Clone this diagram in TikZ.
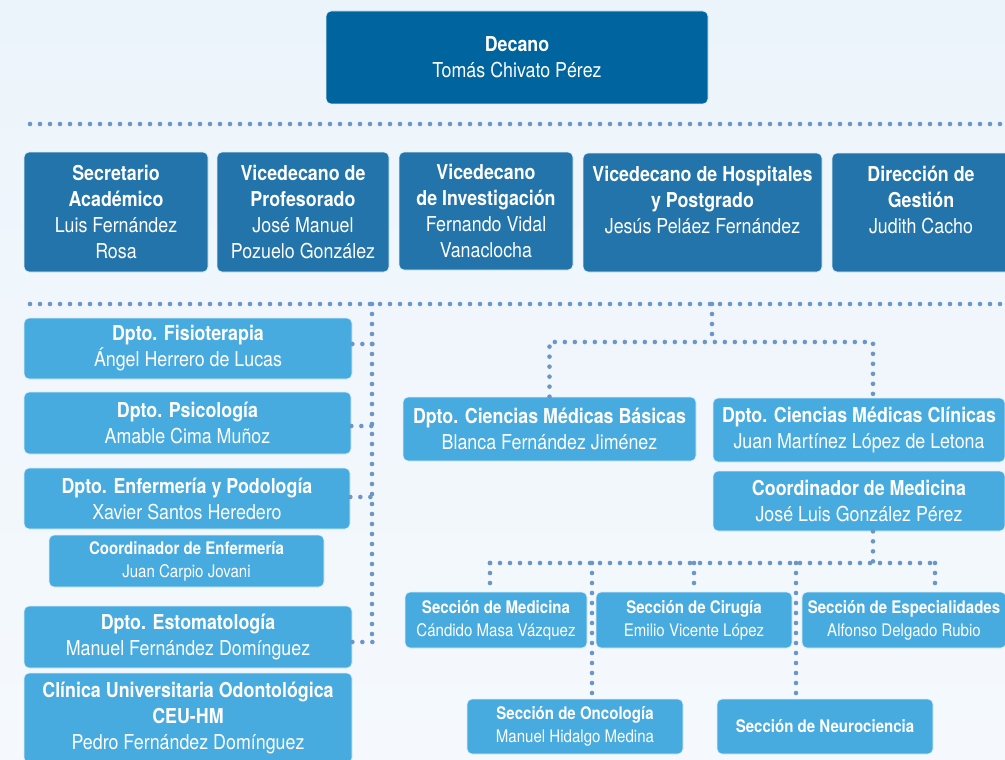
\documentclass[tikz,border=0pt]{standalone}
\usepackage{fontspec}
\setmainfont{TeX Gyre Heros}[FakeStretch=0.87]
\definecolor{decblue}{RGB}{0,100,159}
\definecolor{midblue}{RGB}{34,116,170}
\definecolor{lightblue}{RGB}{72,171,224}
\definecolor{dotblue}{RGB}{106,150,200}
\definecolor{boxedge}{RGB}{222,238,250}
\definecolor{bgtop}{RGB}{236,244,251}
\definecolor{bgbot}{RGB}{245,249,253}
\tikzset{
  box/.style={rectangle, rounded corners=5pt, draw=boxedge, line width=0.7pt,
    text=white, align=center, inner sep=0pt, font=\fontsize{20.5}{26}\selectfont},
  dbox/.style={box, fill=decblue},
  mbox/.style={box, fill=midblue},
  lbox/.style={box, fill=lightblue},
  sbox/.style={lbox, font=\fontsize{17.3}{23}\selectfont},
  dots/.style={draw=dotblue, line width=4.6pt, line cap=round, dash pattern=on 0pt off 10pt},
}
\begin{document}
\begin{tikzpicture}[x=1pt,y=-1pt]
\useasboundingbox (0,0) rectangle (1005,760);
\clip (0,0) rectangle (1005,760);
\fill[top color=bgtop, bottom color=bgbot] (0,0) rectangle (1005,760);

% separators
\coordinate (sa1) at (30,124);
\coordinate (sa2) at (1010,124);
\coordinate (sb1) at (30,304);
\coordinate (sb2) at (1010,304);
\draw[dots] (sa1) -- (sa2);
\draw[dots] (sb1) -- (sb2);

% top
\node[dbox, minimum width=382pt, minimum height=93pt] (dec) at (517,57.5)
  {\textbf{Decano}\\Tomás Chivato Pérez};

% second row
\node[mbox, minimum width=184pt, minimum height=120pt] (sec) at (116,212)
  {\textbf{Secretario}\\\textbf{Académico}\\Luis Fernández\\Rosa};
\node[mbox, minimum width=172pt, minimum height=120pt] (prof) at (303,212)
  {\textbf{Vicedecano de}\\\textbf{Profesorado}\\José Manuel\\Pozuelo González};
\node[mbox, minimum width=174pt, minimum height=118pt] (inv) at (486,211)
  {\textbf{Vicedecano}\\\textbf{de Investigación}\\Fernando Vidal\\Vanaclocha};
\node[mbox, minimum width=239pt, minimum height=119pt] (hosp) at (702.5,212.5)
  {\textbf{Vicedecano de Hospitales}\\\textbf{y Postgrado}\\Jesús Peláez Fernández\\\mbox{}};
\node[mbox, minimum width=178pt, minimum height=119pt] (dir) at (921,212.5)
  {\textbf{Dirección de}\\\textbf{Gestión}\\Judith Cacho\\\mbox{}};

% left column
\node[lbox, minimum width=328pt, minimum height=61pt] (fisio) at (188,348.5)
  {\textbf{Dpto. Fisioterapia}\\Ángel Herrero de Lucas};
\node[lbox, minimum width=327pt, minimum height=62pt] (psi) at (187.5,423)
  {\textbf{Dpto. Psicología}\\Amable Cima Muñoz};
\node[lbox, minimum width=326pt, minimum height=61pt] (enf) at (187,498.5)
  {\textbf{Dpto. Enfermería y Podología}\\Xavier Santos Heredero};
\node[sbox, minimum width=275pt, minimum height=52pt] (coenf) at (186.5,561)
  {\textbf{Coordinador de Enfermería}\\Juan Carpio Jovani};
\node[lbox, minimum width=328pt, minimum height=62pt] (esto) at (188,637)
  {\textbf{Dpto. Estomatología}\\Manuel Fernández Domínguez};
\node[lbox, minimum width=328pt, minimum height=90pt] (clinica) at (188,718)
  {\textbf{Clínica Universitaria Odontológica}\\\textbf{CEU-HM}\\Pedro Fernández Domínguez};

% left connectors
\coordinate (vl1) at (372,304);
\coordinate (vl2) at (372,642);
\draw[dots] (vl1) -- (vl2);
\draw[dots] ([yshift=4.5pt]fisio.east) -- ++(20,0);
\draw[dots] ([yshift=-3pt]psi.east) -- ++(21,0);
\draw[dots] ([yshift=1.5pt]enf.east) -- ++(22,0);
\draw[dots] ([yshift=-5pt]esto.east) -- ++(20,0);

% right departments
\node[lbox, minimum width=293pt, minimum height=64pt] (bas) at (549.5,429)
  {\textbf{Dpto. Ciencias Médicas Básicas}\\Blanca Fernández Jiménez};
\node[lbox, minimum width=292pt, minimum height=64pt] (clin) at (859,430)
  {\textbf{Dpto. Ciencias Médicas Clínicas}\\Juan Martínez López de Letona};
\node[lbox, minimum width=292pt, minimum height=60pt] (comed) at (859,501)
  {\textbf{Coordinador de Medicina}\\José Luis González Pérez};

\coordinate (rj) at (712,304);
\coordinate (rh) at (712,342);
\coordinate (clintop) at ([xshift=14pt]clin.north);
\draw[dots] (rj) -- (rh);
\draw[dots] (bas.north) |- (rh) -| (clintop);

% sections
\node[sbox, minimum width=182pt, minimum height=56pt] (smed) at (496,620)
  {\textbf{Sección de Medicina}\\Cándido Masa Vázquez};
\node[sbox, minimum width=196pt, minimum height=56pt] (scir) at (694,620)
  {\textbf{Sección de Cirugía}\\Emilio Vicente López};
\node[sbox, minimum width=204pt, minimum height=56pt] (sesp) at (904,620)
  {\textbf{Sección de Especialidades}\\Alfonso Delgado Rubio};
\node[sbox, minimum width=216pt, minimum height=55pt] (sonc) at (575,726.5)
  {\textbf{Sección de Oncología}\\Manuel Hidalgo Medina};
\node[sbox, minimum width=216pt, minimum height=55pt] (sneu) at (825,726.5)
  {\textbf{Sección de Neurociencia}};

\coordinate (cmbot) at ([xshift=14pt]comed.south);
\coordinate (lh) at (873,563);
\coordinate (hL) at (490,563);
\coordinate (hR) at (935,563);
\coordinate (medtop) at ([xshift=-6pt]smed.north);
\coordinate (esptop) at ([xshift=31pt]sesp.north);
\coordinate (onctop) at ([xshift=17pt]sonc.north);
\coordinate (neutop) at ([xshift=-29pt]sneu.north);
\draw[dots] (cmbot) -- (lh);
\draw[dots] (hL) -- (hR);
\draw[dots] (hL) -- (medtop);
\draw[dots] (scir.north |- hL) -- (scir.north);
\draw[dots] (hR) -- (esptop);
\draw[dots] (onctop |- hL) -- (onctop);
\draw[dots] (neutop |- hL) -- (neutop);
\end{tikzpicture}
\end{document}
